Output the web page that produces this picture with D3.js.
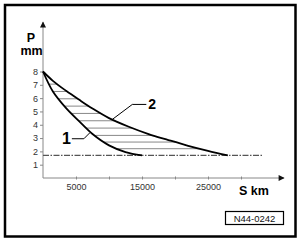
<!DOCTYPE html>
<html>
<head>
<meta charset="utf-8">
<script src="https://cdn.jsdelivr.net/npm/d3@7"></script>
<style>
  html, body { margin: 0; padding: 0; background: #fff; }
  svg { display: block; font-family: "Liberation Sans", Arial, sans-serif; }
  .tick text { font-size: 9px; fill: #333; }
  .tick line { stroke: #888; }
</style>
</head>
<body>
<svg id="chart" width="300" height="241"></svg>
<script>
// wear curves, distance in km vs. thickness in mm
var curve1Km = [0, 1500, 3500, 5500, 7500, 10000, 12500, 15000];
var curve1P  = [8, 6.5, 5.25, 4.25, 3.3, 2.45, 1.95, 1.7];
var curve2Km = [0, 1500, 3500, 5500, 7500, 10000, 13000, 16000, 19000, 22000, 25000, 28000];
var curve2P  = [8, 7.3, 6.55, 5.87, 5.22, 4.5, 3.85, 3.3, 2.85, 2.42, 2.04, 1.7];
var hatchP   = [7.05, 6.5, 5.95, 5.4, 4.85, 4.3, 3.75, 3.2, 2.7, 2.2];
var limitP   = 1.7;
var limitKm  = [0, 33300];
var xTicks   = [5000, 10000, 15000, 20000, 25000, 30000];
var xLabels  = [5000, 15000, 25000];
var yTicks   = [1, 2, 3, 4, 5, 6, 7, 8];
var labelNames = ['1', '2'];
var labelKm    = [7100, 10500];
var labelP     = [3.4, 4.4];

var svg = d3.select('#chart');

var xScale = d3.scaleLinear().domain([0, 30000]).range([43, 241]);
var yScale = d3.scaleLinear().domain([0, 8]).range([178, 71.5]);

// outer frame
svg.append('rect')
  .attr('x', 5).attr('y', 5).attr('width', 290.5).attr('height', 231.5)
  .attr('fill', 'none').attr('stroke', '#000').attr('stroke-width', 2.5);

// arrow marker
svg.append('defs').append('marker')
  .attr('id', 'arr').attr('viewBox', '0 0 10 10')
  .attr('refX', 9).attr('refY', 5)
  .attr('markerWidth', 8).attr('markerHeight', 6)
  .attr('markerUnits', 'userSpaceOnUse')
  .attr('orient', 'auto')
  .append('path').attr('d', 'M0,0 L10,5 L0,10 Z').attr('fill', '#111');

// axes lines with arrows
svg.append('line')
  .attr('x1', xScale(0)).attr('y1', yScale(0))
  .attr('x2', xScale(0)).attr('y2', 22)
  .attr('stroke', '#888').attr('stroke-width', 1)
  .attr('marker-end', 'url(#arr)');
svg.append('line')
  .attr('x1', xScale(0)).attr('y1', yScale(0))
  .attr('x2', 284).attr('y2', yScale(0))
  .attr('stroke', '#888').attr('stroke-width', 1)
  .attr('marker-end', 'url(#arr)');

// y axis ticks
var yAxis = svg.append('g')
  .attr('transform', 'translate(' + xScale(0) + ',0)')
  .call(d3.axisLeft(yScale).tickValues(yTicks).tickSize(3).tickPadding(2).tickFormat(d3.format('d')));
yAxis.select('.domain').remove();

// x axis ticks
var xAxis = svg.append('g')
  .attr('transform', 'translate(0,' + (yScale(0) - 1.5) + ')')
  .call(d3.axisBottom(xScale).tickValues(xTicks).tickSize(3).tickPadding(4)
    .tickFormat(function(d) { return xLabels.indexOf(d) >= 0 ? d : ''; }));
xAxis.select('.domain').remove();

// axis titles
svg.append('text').attr('x', 31).attr('y', 42).attr('text-anchor', 'middle')
  .attr('font-size', 12.5).attr('font-weight', 'bold').text('P');
svg.append('text').attr('x', 31.5).attr('y', 54.5).attr('text-anchor', 'middle')
  .attr('font-size', 12.5).attr('font-weight', 'bold').text('mm');
svg.append('text').attr('x', 239).attr('y', 194.5)
  .attr('font-size', 12.5).attr('font-weight', 'bold').text('S km');

// layer for hatching, below the curves
var hatchLayer = svg.append('g').attr('class', 'hatch');

// limit line
svg.append('line')
  .attr('x1', xScale(limitKm[0])).attr('x2', xScale(limitKm[1]))
  .attr('y1', yScale(limitP)).attr('y2', yScale(limitP))
  .attr('stroke', '#555').attr('stroke-width', 1.4)
  .attr('stroke-dasharray', '6,1.5,1.5,1.5');

// curves
var line = d3.line()
  .x(function(d) { return xScale(d[0]); })
  .y(function(d) { return yScale(d[1]); })
  .curve(d3.curveCatmullRom.alpha(0.5));

var c1 = svg.append('path')
  .datum(curve1Km.map(function(k, i) { return [k, curve1P[i]]; }))
  .attr('d', line).attr('fill', 'none').attr('stroke', '#000').attr('stroke-width', 1.8);
var c2 = svg.append('path')
  .datum(curve2Km.map(function(k, i) { return [k, curve2P[i]]; }))
  .attr('d', line).attr('fill', 'none').attr('stroke', '#000').attr('stroke-width', 1.8);

// find x on a path at a given screen y
function xAtY(pathNode, yPix) {
  var len = pathNode.getTotalLength();
  var best = null, bestD = 1e9;
  for (var s = 0; s <= len; s += 0.25) {
    var p = pathNode.getPointAtLength(s);
    var dd = Math.abs(p.y - yPix);
    if (dd < bestD) { bestD = dd; best = p.x; }
  }
  return best;
}

// hatching between curves
hatchLayer.selectAll('line')
  .data(hatchP).enter().append('line')
  .attr('x1', function(d) { return xAtY(c1.node(), yScale(d)); })
  .attr('x2', function(d) { return xAtY(c2.node(), yScale(d)); })
  .attr('y1', function(d) { return yScale(d); })
  .attr('y2', function(d) { return yScale(d); })
  .attr('stroke', '#888').attr('stroke-width', 1);

// callout labels
labelNames.forEach(function(name, i) {
  var ax = xScale(labelKm[i]), ay = yScale(labelP[i]);
  var g = svg.append('g');
  if (name === '1') {
    g.append('polyline')
      .attr('points', [[ax, ay], [ax - 6, ay + 6], [ax - 18, ay + 6]].join(' '))
      .attr('fill', 'none').attr('stroke', '#000').attr('stroke-width', 1);
    g.append('text').attr('x', ax - 19).attr('y', ay + 11.5).attr('text-anchor', 'end')
      .attr('font-size', 16).attr('font-weight', 'bold').text(name);
  } else {
    g.append('polyline')
      .attr('points', [[ax, ay], [ax + 20, ay - 15], [ax + 34, ay - 15]].join(' '))
      .attr('fill', 'none').attr('stroke', '#000').attr('stroke-width', 1);
    g.append('text').attr('x', ax + 36).attr('y', ay - 10)
      .attr('font-size', 14).attr('font-weight', 'bold').text(name);
  }
});

// figure code box
svg.append('rect')
  .attr('x', 225.5).attr('y', 211.5).attr('width', 58).attr('height', 13)
  .attr('fill', 'none').attr('stroke', '#000').attr('stroke-width', 1.2);
svg.append('text').attr('x', 254.5).attr('y', 221.5).attr('text-anchor', 'middle')
  .attr('font-size', 9.5).attr('fill', '#111').text('N44-0242');
</script>
</body>
</html>
